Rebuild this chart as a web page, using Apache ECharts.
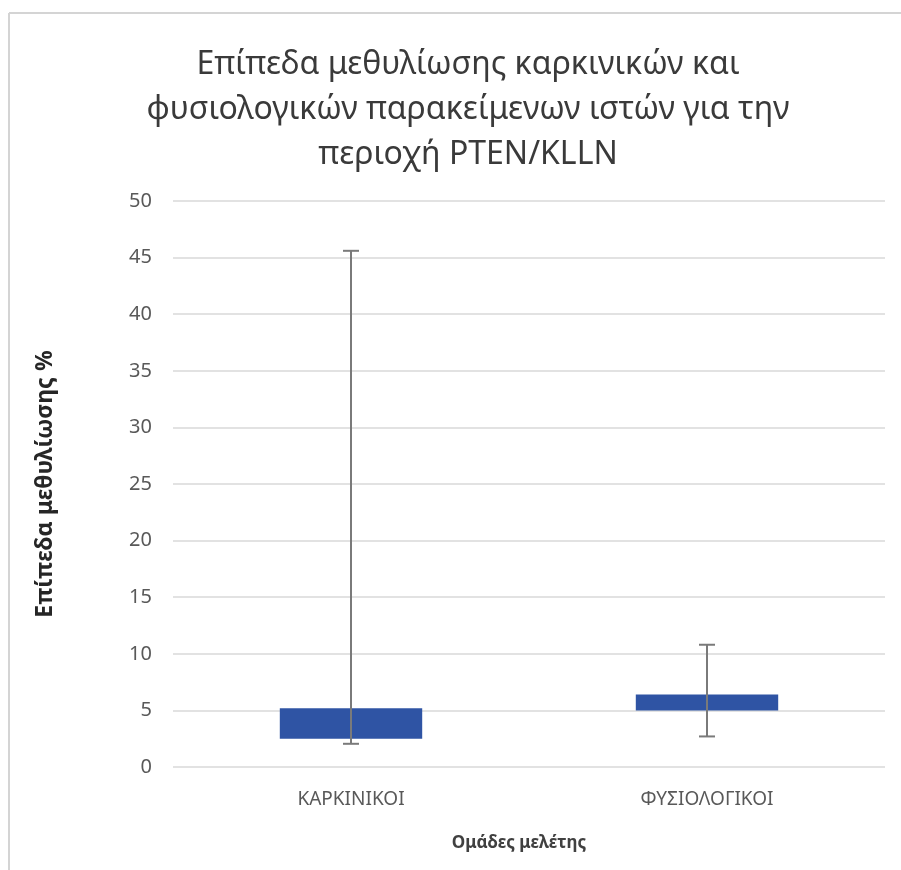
<!DOCTYPE html>
<html>
<head>
<meta charset="utf-8">
<script src="https://cdn.jsdelivr.net/npm/echarts@6/dist/echarts.min.js"></script>
<style>
html,body{margin:0;padding:0;background:#fff;}
#chart{width:901px;height:870px;}
</style>
</head>
<body>
<div id="chart"></div>
<script>
// Data
const categories = ['ΚΑΡΚΙΝΙΚΟΙ', 'ΦΥΣΙΟΛΟΓΙΚΟΙ'];
const boxLow = [2.5, 5.0];
const boxHigh = [5.2, 6.4];
const whiskerLow = [2.05, 2.7];
const whiskerHigh = [45.6, 10.8];
const yTicks = [0, 5, 10, 15, 20, 25, 30, 35, 40, 45, 50];

const boxSpan = boxHigh.map((h, i) => +(h - boxLow[i]).toFixed(3));
const whiskerData = categories.map((c, i) => [i, whiskerLow[i], whiskerHigh[i]]);

const chart = echarts.init(document.getElementById('chart'));
const font = "'Noto Sans', 'Open Sans', sans-serif";
chart.setOption({
  animation: false,
  backgroundColor: '#ffffff',
  title: {
    text: 'Επίπεδα μεθυλίωσης καρκινικών και\nφυσιολογικών παρακείμενων ιστών για την\nπεριοχή PTEN/KLLN',
    left: 463,
    textAlign: 'center',
    top: 37,
    textStyle: { fontFamily: font, fontSize: 32, fontWeight: 'normal', color: '#3a3a3a', lineHeight: 45 }
  },
  graphic: [
    { type: 'line', shape: { x1: 9, y1: 13, x2: 901, y2: 13 }, style: { stroke: '#d4d4d4', lineWidth: 2 } },
    { type: 'line', shape: { x1: 9, y1: 13, x2: 9, y2: 870 }, style: { stroke: '#d4d4d4', lineWidth: 2 } }
  ],
  grid: { left: 173, right: 16, top: 201, bottom: 103, containLabel: false },
  xAxis: {
    type: 'category',
    data: categories,
    axisLine: { show: false },
    axisTick: { show: false },
    axisLabel: { fontFamily: font, fontSize: 19, color: '#595959', margin: 23 },
    name: 'Ομάδες μελέτης',
    nameLocation: 'middle',
    nameGap: 68,
    nameTextStyle: { fontFamily: font, fontSize: 17, fontWeight: 'bold', color: '#404040', padding: [0, 20, 0, 0] }
  },
  yAxis: {
    type: 'value',
    min: yTicks[0],
    max: yTicks[yTicks.length - 1],
    interval: 5,
    axisLine: { show: false },
    axisTick: { show: false },
    splitLine: { lineStyle: { color: '#d9d9d9', width: 1.5 } },
    axisLabel: { fontFamily: font, fontSize: 20, color: '#595959', margin: 21 },
    name: 'Επίπεδα μεθυλίωσης %',
    nameLocation: 'middle',
    nameGap: 116,
    nameTextStyle: { fontFamily: font, fontSize: 23, fontWeight: 'bold', color: '#262626' }
  },
  series: [
    {
      type: 'bar',
      stack: 'box',
      data: boxLow,
      itemStyle: { color: 'transparent' },
      barCategoryGap: '60%',
      silent: true
    },
    {
      type: 'bar',
      stack: 'box',
      data: boxSpan,
      itemStyle: { color: '#2f54a4' },
      barCategoryGap: '60%'
    },
    {
      type: 'custom',
      data: whiskerData,
      z: 10,
      renderItem: function (params, api) {
        const x = api.value(0);
        const lo = api.coord([x, api.value(1)]);
        const hi = api.coord([x, api.value(2)]);
        const cap = 8;
        const style = { stroke: '#7a7a7a', lineWidth: 2 };
        return {
          type: 'group',
          children: [
            { type: 'line', shape: { x1: hi[0], y1: hi[1], x2: lo[0], y2: lo[1] }, style: style },
            { type: 'line', shape: { x1: hi[0] - cap, y1: hi[1], x2: hi[0] + cap, y2: hi[1] }, style: style },
            { type: 'line', shape: { x1: lo[0] - cap, y1: lo[1], x2: lo[0] + cap, y2: lo[1] }, style: style }
          ]
        };
      }
    }
  ]
});
</script>
</body>
</html>
